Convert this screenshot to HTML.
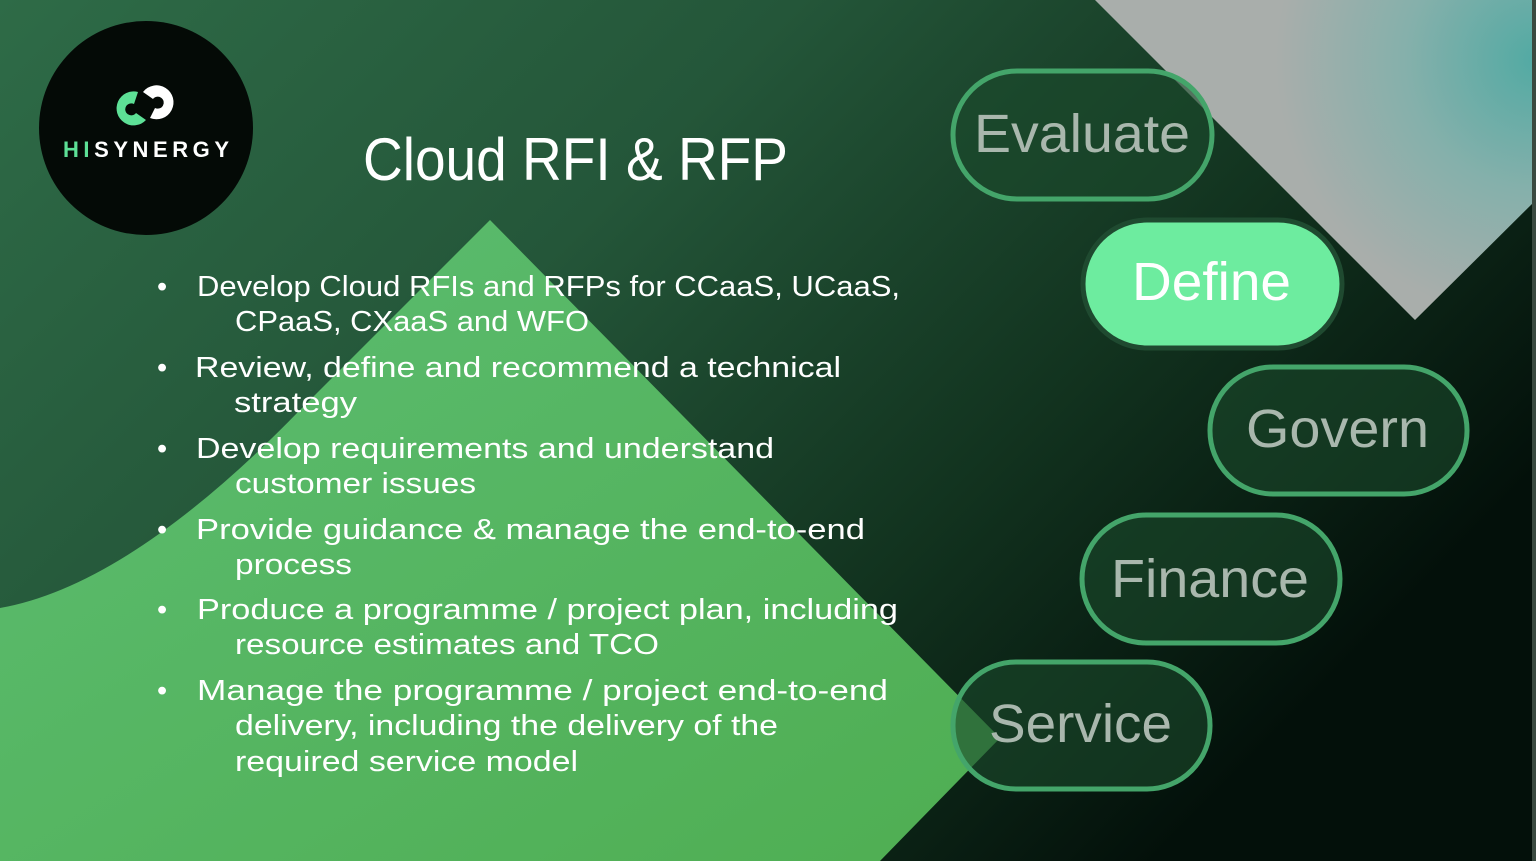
<!DOCTYPE html>
<html><head><meta charset="utf-8"><style>
html,body{margin:0;padding:0;background:#000;}
svg{display:block}
text{font-family:"Liberation Sans",sans-serif;}
</style></head><body>
<svg width="1536" height="861" viewBox="0 0 1536 861" xmlns="http://www.w3.org/2000/svg">
<defs>
<linearGradient id="bg" x1="0" y1="0" x2="1" y2="0.55">
<stop offset="0" stop-color="#2e6b47"/>
<stop offset="0.4" stop-color="#245639"/>
<stop offset="0.72" stop-color="#12331f"/>
<stop offset="1" stop-color="#03100a"/>
</linearGradient>
<linearGradient id="gr" x1="0" y1="0" x2="1" y2="1">
<stop offset="0" stop-color="#5cbd72"/>
<stop offset="1" stop-color="#4fae52"/>
</linearGradient>
<radialGradient id="gy" cx="1536" cy="60" r="260" gradientUnits="userSpaceOnUse">
<stop offset="0" stop-color="#52aaa3"/>
<stop offset="0.5" stop-color="#85b0ab"/>
<stop offset="1" stop-color="#a9aeab"/>
</radialGradient>
</defs>
<rect width="1536" height="861" fill="url(#bg)"/>
<path d="M490,220 L1000,738 L880,861 L0,861 L0,608 Q130,585 300,410 Z" fill="url(#gr)"/>
<path d="M1095,0 L1536,0 L1536,200 L1415,320 Z" fill="url(#gy)"/>
<rect x="1532" y="0" width="4" height="861" fill="#3a4a40"/>
<!-- logo -->
<circle cx="146" cy="128" r="107" fill="#040a06"/>
<path d="M138,92 A17,17 0 1,0 146,120 L136,113 A6,6 0 1,1 134,104 Z" fill="#5de096"/>
<path d="M150,118 A17,17 0 1,0 143,92 L153,99 A6,6 0 1,1 155,108 Z" fill="#ffffff"/>
<text x="63" y="157" font-size="22" font-weight="bold" fill="#ffffff" textLength="166" lengthAdjust="spacing"><tspan fill="#5de096">HI</tspan>SYNERGY</text>
<!-- title -->
<text x="363" y="180" font-size="60" fill="#ffffff" textLength="425" lengthAdjust="spacingAndGlyphs">Cloud RFI &amp; RFP</text>
<!-- bullets -->
<g font-size="29" fill="#ffffff">
<text x="157" y="296">•</text>
<text x="197" y="296" textLength="703" lengthAdjust="spacingAndGlyphs">Develop Cloud RFIs and RFPs for CCaaS, UCaaS,</text>
<text x="235" y="331" textLength="354" lengthAdjust="spacingAndGlyphs">CPaaS, CXaaS and WFO</text>
<text x="157" y="377">•</text>
<text x="195" y="377" textLength="646" lengthAdjust="spacingAndGlyphs">Review, define and recommend a technical</text>
<text x="234" y="412" textLength="123" lengthAdjust="spacingAndGlyphs">strategy</text>
<text x="157" y="458">•</text>
<text x="196" y="458" textLength="578" lengthAdjust="spacingAndGlyphs">Develop requirements and understand</text>
<text x="235" y="493" textLength="241" lengthAdjust="spacingAndGlyphs">customer issues</text>
<text x="157" y="539">•</text>
<text x="196" y="539" textLength="669" lengthAdjust="spacingAndGlyphs">Provide guidance &amp; manage the end-to-end</text>
<text x="235" y="574" textLength="117" lengthAdjust="spacingAndGlyphs">process</text>
<text x="157" y="619">•</text>
<text x="197" y="619" textLength="701" lengthAdjust="spacingAndGlyphs">Produce a programme / project plan, including</text>
<text x="235" y="654" textLength="424" lengthAdjust="spacingAndGlyphs">resource estimates and TCO</text>
<text x="157" y="700">•</text>
<text x="197" y="700" textLength="691" lengthAdjust="spacingAndGlyphs">Manage the programme / project end-to-end</text>
<text x="235" y="735" textLength="543" lengthAdjust="spacingAndGlyphs">delivery, including the delivery of the</text>
<text x="235" y="771" textLength="343" lengthAdjust="spacingAndGlyphs">required service model</text>
</g>
<!-- pills -->
<g stroke="#44a56a" stroke-width="5" fill="#1b4a2c" fill-opacity="0.6">
<rect x="953" y="71" width="259" height="128" rx="64"/>
<rect x="1210" y="367" width="257" height="127" rx="63"/>
<rect x="1082" y="515" width="258" height="128" rx="64"/>
<rect x="953" y="662" width="257" height="127" rx="63"/>
</g>
<rect x="1083" y="220" width="259" height="128" rx="64" fill="#6dec9f" stroke="#1f4a30" stroke-width="5"/>
<g font-size="54" fill="#a9b7ad">
<text x="974" y="152" textLength="216" lengthAdjust="spacingAndGlyphs">Evaluate</text>
<text x="1246" y="447" textLength="183" lengthAdjust="spacingAndGlyphs">Govern</text>
<text x="1111" y="597" textLength="198" lengthAdjust="spacingAndGlyphs">Finance</text>
<text x="989" y="742" textLength="183" lengthAdjust="spacingAndGlyphs">Service</text>
</g>
<text x="1132" y="300" font-size="54" fill="#ffffff" textLength="159" lengthAdjust="spacingAndGlyphs">Define</text>
</svg>
</body></html>
